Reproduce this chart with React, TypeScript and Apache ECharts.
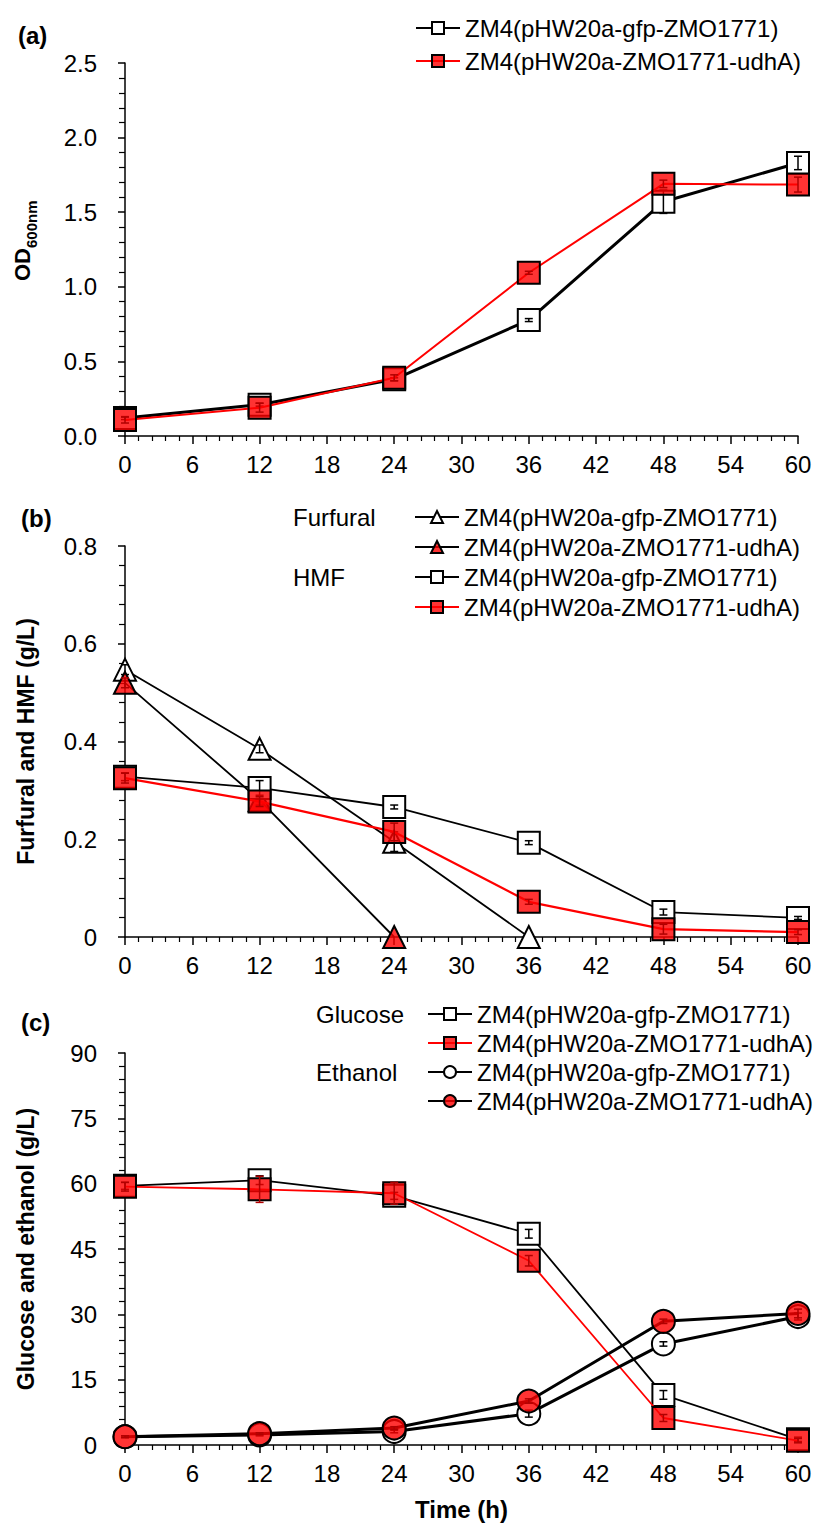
import React, { useEffect, useRef } from "react";
import * as echarts from "echarts";

// Sampling times (h)
const hours = [0, 12, 24, 36, 48, 60];

// (a) growth, OD600nm
const odGfp = [0.12, 0.21, 0.38, 0.777, 1.57, 1.83];
const odGfpErr = [0.01, 0.01, 0.01, 0.01, 0.078, 0.045];
const odUdhA = [0.107, 0.19, 0.39, 1.094, 1.69, 1.685];
const odUdhAErr = [0.02, 0.03, 0.02, 0.01, 0.025, 0.05];

// (b) furfural and HMF (g/L)
const furfGfp = [0.547, 0.385, 0.195, 0, null, null];
const furfGfpErr = [0.01, 0.008, 0.02, 0, null, null];
const furfUdhA = [0.52, 0.28, 0, null, null, null];
const furfUdhAErr = [0.01, 0.01, 0, null, null, null];
const hmfGfp = [0.328, 0.305, 0.266, 0.193, 0.051, 0.039];
const hmfGfpErr = [0.008, 0.015, 0.004, 0.004, 0.006, 0.003];
const hmfUdhA = [0.325, 0.277, 0.215, 0.072, 0.016, 0.01];
const hmfUdhAErr = [0.01, 0.01, 0.018, 0.005, 0.01, 0.005];

// (c) glucose and ethanol (g/L)
const glcGfp = [59.5, 60.8, 57.2, 48.5, 11.5, 1.3];
const glcGfpErr = [0.8, 1.0, 0.8, 1.0, 1.0, 0.5];
const glcUdhA = [59.3, 58.7, 57.8, 42.3, 6.2, 1.0];
const glcUdhAErr = [1.0, 3.0, 2.5, 1.2, 0.8, 0.5];
const ethGfp = [1.9, 2.3, 3.1, 7.2, 23.2, 29.5];
const ethGfpErr = [0.2, 0.2, 0.3, 0.8, 0.5, 0.8];
const ethUdhA = [1.9, 2.6, 3.9, 10.1, 28.4, 30.2];
const ethUdhAErr = [0.2, 0.2, 0.3, 0.5, 0.5, 1.0];

const GFP = "ZM4(pHW20a-gfp-ZMO1771)";
const UDHA = "ZM4(pHW20a-ZMO1771-udhA)";

const legendText: Record<string, string> = {
  od_gfp: GFP,
  od_udha: UDHA,
  furf_gfp: GFP,
  furf_udha: UDHA,
  hmf_gfp: GFP,
  hmf_udha: UDHA,
  glc_gfp: GFP,
  glc_udha: UDHA,
  eth_gfp: GFP,
  eth_udha: UDHA,
};

const FONT = "'Liberation Sans', Arial, Helvetica, sans-serif";
const RED_FILL = "rgba(255,0,0,0.8)";
const WHITE = "#ffffff";

function points(values: (number | null)[]) {
  const out: number[][] = [];
  hours.forEach((h, i) => {
    if (values[i] !== null && values[i] !== undefined) out.push([h, values[i] as number]);
  });
  return out;
}

// Each series sits on its own z layer so that its error bars are drawn
// right above its own markers and below the markers of later series.
function lineSeries(
  name: string,
  grid: number,
  values: (number | null)[],
  symbol: string,
  fill: string,
  lineColor: string,
  lineWidth: number,
  layer: number,
  symbolSize = 22
) {
  return {
    type: "line",
    name,
    xAxisIndex: grid,
    yAxisIndex: grid,
    z: 2 + layer * 2,
    data: points(values),
    symbol,
    symbolSize,
    showSymbol: true,
    showAllSymbol: true,
    clip: false,
    lineStyle: { color: lineColor, width: lineWidth },
    itemStyle: { color: fill, borderColor: "#000", borderWidth: 2 },
    emphasis: { disabled: true },
  };
}

function errorSeries(
  name: string,
  grid: number,
  values: (number | null)[],
  errs: (number | null)[],
  color: string,
  layer: number
) {
  const data: number[][] = [];
  hours.forEach((h, i) => {
    const v = values[i];
    const e = errs[i];
    if (v !== null && v !== undefined && e) data.push([h, v, e]);
  });
  return {
    type: "custom",
    name,
    xAxisIndex: grid,
    yAxisIndex: grid,
    z: 3 + layer * 2,
    data,
    clip: false,
    silent: true,
    encode: { x: 0, y: 1 },
    renderItem: (_params: any, api: any) => {
      const x = api.value(0);
      const y = api.value(1);
      const e = api.value(2);
      const top = api.coord([x, y + e]);
      const bot = api.coord([x, y - e]);
      const w = 4;
      const style = { stroke: color, lineWidth: 1.5 };
      return {
        type: "group",
        children: [
          { type: "line", shape: { x1: top[0], y1: top[1], x2: bot[0], y2: bot[1] }, style },
          { type: "line", shape: { x1: top[0] - w, y1: top[1], x2: top[0] + w, y2: top[1] }, style },
          { type: "line", shape: { x1: bot[0] - w, y1: bot[1], x2: bot[0] + w, y2: bot[1] }, style },
        ],
      };
    },
  };
}

const axisLineStyle = { color: "#000", width: 1.5 };

function xAxis(grid: number, name?: string) {
  return {
    type: "value",
    gridIndex: grid,
    min: 0,
    max: 60,
    interval: 6,
    axisLine: { show: true, lineStyle: axisLineStyle },
    axisTick: { show: true, inside: false, length: 8, lineStyle: axisLineStyle },
    minorTick: { show: true, splitNumber: 5, length: 5, lineStyle: { color: "#000", width: 1.2 } },
    splitLine: { show: false },
    axisLabel: { fontSize: 24, color: "#000", margin: 16, fontFamily: FONT },
    name: name || "",
    nameLocation: "middle",
    nameGap: 52,
    nameTextStyle: { fontSize: 24, fontWeight: "bold", color: "#000", fontFamily: FONT },
  };
}

function yAxis(
  grid: number,
  max: number,
  interval: number,
  formatter: (v: number) => string,
  name?: string
) {
  return {
    type: "value",
    gridIndex: grid,
    min: 0,
    max,
    interval,
    axisLine: { show: true, lineStyle: axisLineStyle },
    axisTick: { show: true, inside: false, length: 7, lineStyle: axisLineStyle },
    minorTick: { show: true, splitNumber: 5, length: 6, lineStyle: { color: "#000", width: 1.2 } },
    splitLine: { show: false },
    axisLabel: { fontSize: 24, color: "#000", margin: 28, formatter, fontFamily: FONT },
    name: name || "",
    nameLocation: "middle",
    nameRotate: 90,
    nameGap: 88,
    nameTextStyle: { fontSize: 23, fontWeight: "bold", color: "#000", fontFamily: FONT },
  };
}

function legend(names: string[], left: number, top: number, gap: number) {
  return {
    data: names,
    orient: "vertical",
    left,
    top,
    padding: 0,
    itemWidth: 44,
    itemHeight: 15,
    itemGap: gap,
    selectedMode: false,
    formatter: (n: string) => legendText[n] || n,
    textStyle: { fontSize: 24, lineHeight: 24, color: "#000", fontFamily: FONT },
  };
}

function label(text: string, x: number, y: number, bold: boolean) {
  return {
    type: "text",
    x,
    y,
    style: {
      text,
      fontSize: 24,
      fontWeight: bold ? "bold" : "normal",
      fontFamily: FONT,
      fill: "#000",
      verticalAlign: "middle",
      textVerticalAlign: "middle",
    },
  };
}

export default function App() {
  const ref = useRef<HTMLDivElement>(null);

  useEffect(() => {
    if (!ref.current) return;
    const chart = echarts.init(ref.current, null, { renderer: "svg" });

    const option = {
      animation: false,
      backgroundColor: "#fff",
      textStyle: { fontFamily: FONT },
      grid: [
        { left: 125, right: 23, top: 63, height: 373 },
        { left: 125, right: 23, top: 546, height: 391 },
        { left: 125, right: 23, top: 1053, height: 392 },
      ],
      xAxis: [xAxis(0), xAxis(1), xAxis(2, "Time (h)")],
      yAxis: [
        yAxis(0, 2.5, 0.5, (v) => v.toFixed(1)),
        yAxis(1, 0.8, 0.2, (v) => (v === 0 ? "0" : v.toFixed(1)), "Furfural and HMF (g/L)"),
        yAxis(2, 90, 15, (v) => String(v), "Glucose and ethanol (g/L)"),
      ],
      legend: [
        legend(["od_gfp", "od_udha"], 415, 16, 9),
        legend(["furf_gfp", "furf_udha", "hmf_gfp", "hmf_udha"], 414, 505, 6),
        legend(["glc_gfp", "glc_udha", "eth_gfp", "eth_udha"], 427, 1002, 5),
      ],
      graphic: [
        label("(a)", 18, 35, true),
        label("(b)", 21, 518, true),
        label("(c)", 21, 1022, true),
        label("Furfural", 293, 517, false),
        label("HMF", 293, 577, false),
        label("Glucose", 316, 1014, false),
        label("Ethanol", 316, 1072, false),
        {
          type: "group",
          x: 22,
          y: 281,
          rotation: Math.PI / 2,
          children: [
            {
              type: "text",
              x: 0,
              y: 0,
              style: {
                text: "OD",
                fontSize: 22,
                fontWeight: "bold",
                fontFamily: FONT,
                fill: "#000",
                verticalAlign: "middle",
                textVerticalAlign: "middle",
              },
            },
            {
              type: "text",
              x: 33,
              y: 9,
              style: {
                text: "600nm",
                fontSize: 15,
                fontWeight: "bold",
                fontFamily: FONT,
                fill: "#000",
                verticalAlign: "middle",
                textVerticalAlign: "middle",
              },
            },
          ],
        },
      ],
      series: [
        // (a)
        lineSeries("od_gfp", 0, odGfp, "rect", WHITE, "#000", 3, 0),
        errorSeries("od_gfp_err", 0, odGfp, odGfpErr, "#000", 0),
        lineSeries("od_udha", 0, odUdhA, "rect", RED_FILL, "#ff0000", 2, 1),
        errorSeries("od_udha_err", 0, odUdhA, odUdhAErr, "#b00000", 1),
        // (b)
        lineSeries("furf_gfp", 1, furfGfp, "triangle", WHITE, "#000", 1.8, 0),
        errorSeries("furf_gfp_err", 1, furfGfp, furfGfpErr, "#000", 0),
        lineSeries("furf_udha", 1, furfUdhA, "triangle", RED_FILL, "#000", 1.8, 1),
        errorSeries("furf_udha_err", 1, furfUdhA, furfUdhAErr, "#b00000", 1),
        lineSeries("hmf_gfp", 1, hmfGfp, "rect", WHITE, "#000", 1.8, 2),
        errorSeries("hmf_gfp_err", 1, hmfGfp, hmfGfpErr, "#000", 2),
        lineSeries("hmf_udha", 1, hmfUdhA, "rect", RED_FILL, "#ff0000", 2.2, 3),
        errorSeries("hmf_udha_err", 1, hmfUdhA, hmfUdhAErr, "#b00000", 3),
        // (c)
        lineSeries("glc_gfp", 2, glcGfp, "rect", WHITE, "#000", 1.8, 0),
        errorSeries("glc_gfp_err", 2, glcGfp, glcGfpErr, "#000", 0),
        lineSeries("glc_udha", 2, glcUdhA, "rect", RED_FILL, "#ff0000", 1.8, 1),
        errorSeries("glc_udha_err", 2, glcUdhA, glcUdhAErr, "#b00000", 1),
        lineSeries("eth_gfp", 2, ethGfp, "circle", WHITE, "#000", 3, 2, 23),
        errorSeries("eth_gfp_err", 2, ethGfp, ethGfpErr, "#000", 2),
        lineSeries("eth_udha", 2, ethUdhA, "circle", RED_FILL, "#000", 3, 3, 23),
        errorSeries("eth_udha_err", 2, ethUdhA, ethUdhAErr, "#b00000", 3),
      ],
    };

    chart.setOption(option as any);
    return () => chart.dispose();
  }, []);

  return (
    <div
      ref={ref}
      style={{ position: "absolute", left: 0, top: 0, width: 821, height: 1524, background: "#fff" }}
    />
  );
}
